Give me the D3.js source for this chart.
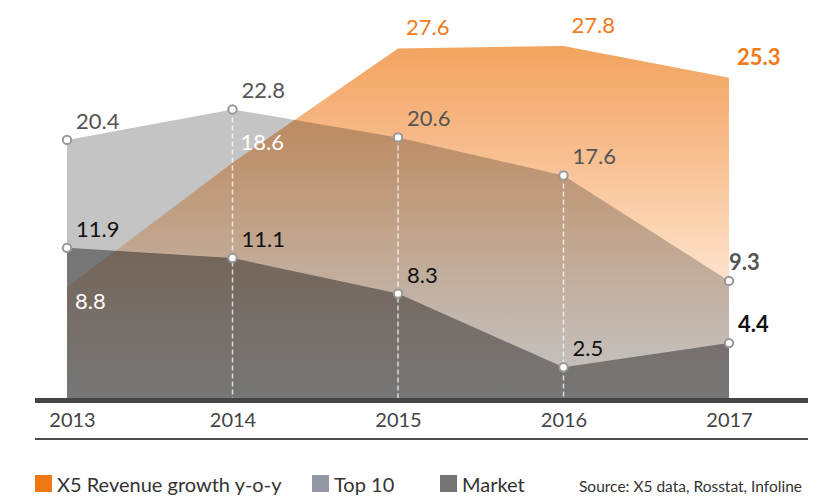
<!DOCTYPE html>
<html>
<head>
<meta charset="utf-8">
<script src="https://cdn.jsdelivr.net/npm/d3@7/dist/d3.min.js"></script>
<style>
  html, body { margin: 0; padding: 0; background: #fff; }
  svg { display: block; font-family: Lato, "Open Sans", sans-serif; }
</style>
</head>
<body>
<svg id="chart" width="821" height="497"></svg>
<script>
// ---- data ----
const years = ["2013", "2014", "2015", "2016", "2017"];
const x5Growth = [8.8, 18.6, 27.6, 27.8, 25.3];
const top10 = [20.4, 22.8, 20.6, 17.6, 9.3];
const market = [11.9, 11.1, 8.3, 2.5, 4.4];
const legendLabels = ["X5 Revenue growth y-o-y", "Top 10", "Market"];
const sourceText = "Source: X5 data, Rosstat, Infoline";

// ---- setup ----
const svg = d3.select("#chart");
svg.append("rect").attr("width", 821).attr("height", 497).attr("fill", "#fff");

const x = d3.scalePoint().domain(years).range([67, 729]);
const y = d3.scaleLinear().domain([0, 30]).range([399, 18]);

const defs = svg.append("defs");
const grad = defs.append("linearGradient")
  .attr("id", "orangeGrad")
  .attr("gradientUnits", "userSpaceOnUse")
  .attr("x1", 0).attr("x2", 0)
  .attr("y1", y(28)).attr("y2", y(0));
[[0, "#f2a35e"], [0.25, "#f6b885"], [0.55, "#fcd7b8"], [0.78, "#feeee2"], [1, "#ffffff"]]
  .forEach(([o, c]) => grad.append("stop").attr("offset", o).attr("stop-color", c));

const area = d3.area()
  .x((d, i) => x(years[i]))
  .y0(y(0))
  .y1(d => y(d));

const plot = svg.append("g").style("isolation", "isolate");

plot.append("path").datum(top10).attr("d", area).attr("fill", "#c4c4c4");
plot.append("path").datum(market).attr("d", area).attr("fill", "#767676");
plot.append("path").datum(x5Growth).attr("d", area)
  .attr("fill", "url(#orangeGrad)")
  .style("mix-blend-mode", "multiply");

// dashed verticals (inner years)
svg.append("g").selectAll("line")
  .data(years.slice(1, -1))
  .join("line")
  .attr("x1", d => x(d)).attr("x2", d => x(d))
  .attr("y1", d => y(top10[years.indexOf(d)]))
  .attr("y2", y(0))
  .attr("stroke", "rgba(255,255,255,0.75)")
  .attr("stroke-width", 1.5)
  .attr("stroke-dasharray", "5,3");

// axis baseline bars
svg.append("rect").attr("x", 35).attr("y", 398).attr("width", 773).attr("height", 5).attr("fill", "#444");
svg.append("line").attr("x1", 35).attr("x2", 808).attr("y1", 439).attr("y2", 439)
  .attr("stroke", "#111").attr("stroke-width", 1.5);

const axis = svg.append("g").attr("transform", "translate(0,403)")
  .call(d3.axisBottom(x).tickSize(0).tickPadding(10));
axis.select(".domain").remove();
axis.selectAll("text")
  .attr("font-family", "Lato, sans-serif")
  .attr("font-size", 20)
  .attr("fill", "#444")
  .attr("dx", (d, i) => i === 0 ? 5 : 0);

// markers
[top10, market].forEach(series => {
  svg.append("g").selectAll("circle")
    .data(series)
    .join("circle")
    .attr("cx", (d, i) => x(years[i]))
    .attr("cy", d => y(d))
    .attr("r", 4.2)
    .attr("fill", "#fff")
    .attr("stroke", "#979797")
    .attr("stroke-width", 2);
});

// labels
const fmt = d3.format(".1f");
const last = years.length - 1;

svg.append("g").selectAll("text")
  .data(top10)
  .join("text")
  .attr("x", (d, i) => x(years[i]) + (i === last ? 0 : 9))
  .attr("y", d => y(d) - 11)
  .attr("font-size", 22)
  .attr("font-weight", (d, i) => i === last ? 700 : 400)
  .attr("fill", "#555")
  .text(d => fmt(d));

svg.append("g").selectAll("text")
  .data(market)
  .join("text")
  .attr("x", (d, i) => x(years[i]) + 9)
  .attr("y", d => y(d) - 11)
  .attr("font-size", 22)
  .attr("font-weight", (d, i) => i === last ? 700 : 400)
  .attr("fill", "#111")
  .text(d => fmt(d));

svg.append("g").selectAll("text")
  .data(x5Growth)
  .join("text")
  .attr("x", (d, i) => x(years[i]) + 8)
  .attr("y", (d, i) => d < market[i] ? y(d) + 22 : y(d) - 13)
  .attr("font-size", 22)
  .attr("font-weight", (d, i) => i === last ? 700 : 400)
  .attr("fill", (d, i) => d < top10[i] ? "#fff" : "#ef7a1a")
  .text(d => fmt(d));

// legend
const legendColors = ["#ef7814", "#9399a3", "#747474"];
const legendX = [35, 312, 440];
const lg = svg.append("g");
legendLabels.forEach((t, i) => {
  lg.append("rect").attr("x", legendX[i]).attr("y", 475).attr("width", 17).attr("height", 17)
    .attr("fill", legendColors[i]);
  lg.append("text").attr("x", legendX[i] + 22).attr("y", 492)
    .attr("font-size", 20).attr("fill", "#333").text(t);
});
svg.append("text").attr("x", 802).attr("y", 492).attr("text-anchor", "end")
  .attr("font-size", 15.5).attr("fill", "#333").text(sourceText);
</script>
</body>
</html>
